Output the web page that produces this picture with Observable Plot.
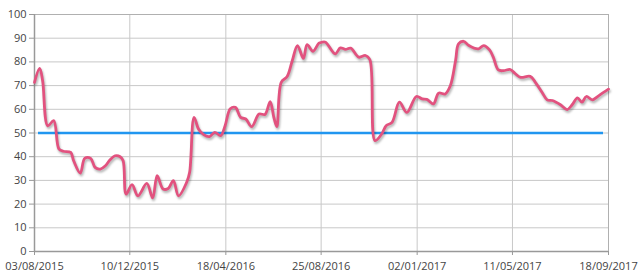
<!DOCTYPE html>
<html>
<head>
<meta charset="utf-8">
<script src="https://cdn.jsdelivr.net/npm/d3@7"></script>
<script src="https://cdn.jsdelivr.net/npm/@observablehq/plot@0.6"></script>
<style>
  html, body { margin: 0; padding: 0; background: #fff; }
  #chart svg { display: block; }
</style>
</head>
<body>
<div id="chart"></div>
<script>
const dates = [
  "2015-08-03","2015-08-10","2015-08-14","2015-08-21","2015-08-29","2015-09-05","2015-09-11","2015-09-21","2015-09-25","2015-10-04",
  "2015-10-10","2015-10-18","2015-10-24","2015-10-31","2015-11-07","2015-11-13","2015-11-20","2015-11-27","2015-12-01","2015-12-05",
  "2015-12-13","2015-12-21","2016-01-02","2016-01-10","2016-01-16","2016-01-24","2016-01-31","2016-02-07","2016-02-14","2016-02-25",
  "2016-02-29","2016-03-06","2016-03-12","2016-03-19","2016-03-27","2016-04-03","2016-04-11","2016-04-17","2016-04-24","2016-05-01",
  "2016-05-08","2016-05-15","2016-05-23","2016-06-02","2016-06-10","2016-06-17","2016-06-22","2016-06-26","2016-07-02","2016-07-10",
  "2016-07-17","2016-07-24","2016-08-01","2016-08-06","2016-08-14","2016-08-22","2016-08-26","2016-08-31","2016-09-13","2016-09-20",
  "2016-09-27","2016-10-04","2016-10-15","2016-10-24","2016-10-30","2016-11-06","2016-11-15","2016-11-21","2016-11-29","2016-12-09",
  "2016-12-19","2017-01-01","2017-01-09","2017-01-15","2017-01-24","2017-01-31","2017-02-09","2017-02-16","2017-02-23","2017-02-27",
  "2017-03-06","2017-03-13","2017-03-26","2017-04-02","2017-04-10","2017-04-15","2017-04-22","2017-04-29","2017-05-08","2017-05-15",
  "2017-05-22","2017-06-04","2017-06-11","2017-06-20","2017-06-27","2017-07-04","2017-07-15","2017-07-24","2017-07-31","2017-08-07",
  "2017-08-13","2017-08-19","2017-08-27","2017-09-05","2017-09-18"
];
const values = [
  71.4,77.3,72,53,55.2,43.3,42.3,41.8,38.3,33.1,
  39.3,39.3,35.5,34.8,36.2,38.6,40.4,40,38.3,24.2,
  28.2,23.5,28.7,22.6,32,26.4,26.6,29.9,23.5,29.2,
  33.4,56.6,51.7,49.3,48.5,50.3,48.9,53.1,60.2,60.8,
  56.6,55.9,52.7,58,57.8,63.2,56.6,52.7,71.4,73.8,
  80.6,86.9,81.5,87.3,84.5,87.9,88.3,88.3,83.4,85.9,
  85.3,85.8,82,82.7,80.9,46.8,49.6,53.1,54.5,63,
  58.7,65.4,64.4,64.2,62.3,66.8,66.5,70,80.6,87.6,
  88.7,86.9,85.5,86.9,85.1,82,76.6,76.3,76.8,75,
  73.5,73.9,71.4,67.2,64,63.7,61.9,59.9,62,64.8,
  63,65.4,64,65.8,68.5
];
const threshold = [50];
const xTicks = ["2015-08-03","2015-12-10","2016-04-18","2016-08-25","2017-01-02","2017-05-11","2017-09-18"];
const yTicks = [0,10,20,30,40,50,60,70,80,90,100];

const parse = d3.utcParse("%Y-%m-%d");
const data = dates.map((d, i) => ({date: parse(d), value: values[i]}));
const ticks = xTicks.map(parse);

const chart = Plot.plot({
  width: 640,
  height: 280,
  marginLeft: 34,
  marginRight: 32,
  marginTop: 14,
  marginBottom: 29,
  style: {fontFamily: "'Open Sans', 'Noto Sans', sans-serif", fontSize: "11px", color: "#444", background: "#fff"},
  x: {type: "utc", domain: [ticks[0], ticks[ticks.length - 1]], label: null},
  y: {domain: [0, 100], label: null},
  marks: [
    Plot.gridY(yTicks, {stroke: "#c8c8c8", strokeOpacity: 1}),
    Plot.gridX(ticks, {stroke: "#c8c8c8", strokeOpacity: 1}),
    Plot.frame({stroke: "#b0b0b0"}),
    Plot.axisX({ticks: ticks, tickFormat: d3.utcFormat("%d/%m/%Y"), stroke: "#999", tickSize: 4, tickPadding: 7}),
    Plot.axisY({ticks: yTicks, stroke: "#999", tickSize: 5, tickPadding: 3}),
    Plot.ruleX([0], {x: () => ticks[0], stroke: "#999", strokeWidth: 1.5}),
    Plot.ruleY([0], {stroke: "#999", strokeWidth: 1.5}),
    Plot.ruleY(threshold, {stroke: "#2196f0", strokeWidth: 2.5, insetLeft: 4, insetRight: 5}),
    Plot.line(data, {x: "date", y: "value", stroke: "#e2527f", strokeWidth: 2.8, curve: "catmull-rom"})
  ]
});
const lineG = chart.querySelector('g[aria-label="line"]');
if (lineG) lineG.setAttribute("style", "filter: drop-shadow(1px 2px 1px rgba(0,0,0,0.3));");
document.getElementById("chart").appendChild(chart);
</script>
</body>
</html>
